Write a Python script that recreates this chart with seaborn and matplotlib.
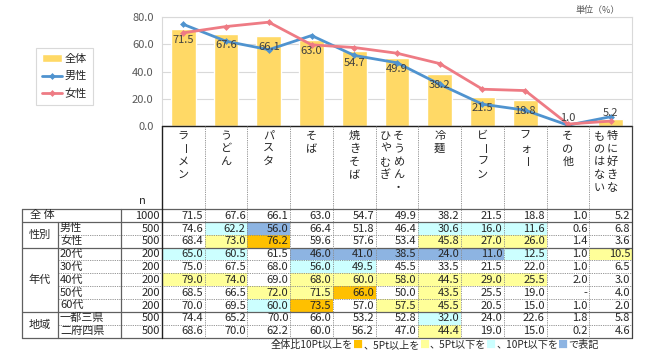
import numpy as np
import pandas as pd
import seaborn as sns
import matplotlib.pyplot as plt
from matplotlib.colors import ListedColormap
from matplotlib.offsetbox import TextArea, HPacker, AnchoredOffsetbox

# ---- data ----
categories = ['ラーメン', 'うどん', 'パスタ', 'そば', '焼きそば', 'そうめん・ひやむぎ',
              '冷麺', 'ビーフン', 'フォー', 'その他', '特に好きなものはない']
# vertical header text, right column first
header_cols = [['ラーメン'], ['うどん'], ['パスタ'], ['そば'], ['焼きそば'],
               ['そうめん・', 'ひやむぎ'], ['冷麺'], ['ビーフン'], ['フォー'],
               ['その他'], ['特に好きな', 'ものはない']]

row_labels = ['全 体', '男性', '女性', '20代', '30代', '40代', '50代', '60代', '一都三県', '二府四県']
groups = [('性別', 1, 3), ('年代', 3, 8), ('地域', 8, 10)]
n_values = [1000, 500, 500, 200, 200, 200, 200, 200, 500, 500]

zentai = [71.5, 67.6, 66.1, 63.0, 54.7, 49.9, 38.2, 21.5, 18.8, 1.0, 5.2]
dansei = [74.6, 62.2, 56.0, 66.4, 51.8, 46.4, 30.6, 16.0, 11.6, 0.6, 6.8]
josei = [68.4, 73.0, 76.2, 59.6, 57.6, 53.4, 45.8, 27.0, 26.0, 1.4, 3.6]
age20 = [65.0, 60.5, 61.5, 46.0, 41.0, 38.5, 24.0, 11.0, 12.5, 1.0, 10.5]
age30 = [75.0, 67.5, 68.0, 56.0, 49.5, 45.5, 33.5, 21.5, 22.0, 1.0, 6.5]
age40 = [79.0, 74.0, 69.0, 68.0, 60.0, 58.0, 44.5, 29.0, 25.5, 2.0, 3.0]
age50 = [68.5, 66.5, 72.0, 71.5, 66.0, 50.0, 43.5, 25.5, 19.0, None, 4.0]
age60 = [70.0, 69.5, 60.0, 73.5, 57.0, 57.5, 45.5, 20.5, 15.0, 1.0, 2.0]
shuto = [74.4, 65.2, 70.0, 66.0, 53.2, 52.8, 32.0, 24.0, 22.6, 1.8, 5.8]
kinki = [68.6, 70.0, 62.2, 60.0, 56.2, 47.0, 44.4, 19.0, 15.0, 0.2, 4.6]

table_rows = [zentai, dansei, josei, age20, age30, age40, age50, age60, shuto, kinki]

# ---- style ----
sns.set_style('white')
plt.rcParams['font.family'] = ['Noto Sans CJK JP', 'DejaVu Sans']

c_bar = '#FFD966'
c_male = '#4F93CF'
c_female = '#EE7B84'
c_orange = '#FFC000'
c_yellow = '#FFFF99'
c_cyan = '#CCFFFF'
c_blue = '#8DB4E2'
txt = '#262626'

W, H = 650, 355
fig = plt.figure(figsize=(W / 100, H / 100), dpi=100)

x0, x1 = 162, 632
cw = (x1 - x0) / len(categories)
chart_top, chart_bot = 17, 126
tx0, gx, nx = 22, 58, 121
ty0, rh = 209, 12.85
ty1 = ty0 + rh * len(table_rows)

# ---- chart ----
ax = fig.add_axes([x0 / W, 1 - chart_bot / H, (x1 - x0) / W, (chart_bot - chart_top) / H])
pos = np.arange(len(categories))
sns.barplot(x=categories, y=zentai, color=c_bar, width=0.58, saturation=1,
            label='全体', ax=ax)
sns.lineplot(x=pos, y=dansei, color=c_male, lw=2, marker='D', markersize=3.5,
             markeredgewidth=0, label='男性', ax=ax)
sns.lineplot(x=pos, y=josei, color=c_female, lw=2, marker='D', markersize=3.5,
             markeredgewidth=0, label='女性', ax=ax)

for i, v in enumerate(zentai):
    off = -8 if v > 10 else 4.5
    ax.annotate(f'{v:.1f}', (i, v), xytext=(0, off), textcoords='offset points',
                ha='center', va='center', fontsize=8, color='#404040')

ax.set_xlim(-0.5, len(categories) - 0.5)
ax.set_ylim(0, 80)
ax.set_yticks([0, 20, 40, 60, 80])
ax.set_yticklabels([f'{t:.1f}' for t in [0, 20, 40, 60, 80]], fontsize=8, color='#595959')
ax.set_xticks([])
ax.set_xlabel('')
ax.tick_params(axis='y', length=0, pad=6)
ax.grid(axis='y', color='#d9d9d9', lw=0.8)
ax.set_axisbelow(True)
for s in ax.spines.values():
    s.set_color('#d9d9d9')
    s.set_linewidth(0.8)

handles, labels = ax.get_legend_handles_labels()
order = [labels.index(l) for l in ['全体', '男性', '女性']]
leg = ax.legend([handles[k] for k in order], [labels[k] for k in order],
                loc='upper left', bbox_to_anchor=(36 / W, 1 - 48 / H),
                bbox_transform=fig.transFigure, fontsize=8, frameon=True,
                fancybox=False, edgecolor='#d0d0d0', handlelength=1.8,
                handletextpad=0.2, borderpad=0.55, labelspacing=0.65,
                borderaxespad=0)
leg.get_frame().set_linewidth(0.8)

fig.text(620 / W, 1 - 10 / H, '単位（%）', ha='right', va='center', fontsize=6.5, color='#595959')

# ---- table cells (heatmap) ----
vals = pd.DataFrame([[np.nan if v is None else v for v in r] for r in table_rows],
                    index=row_labels, columns=categories)
diff = (vals.fillna(0) - vals.loc['全 体']).round(1)
codes = np.select([diff >= 10, diff >= 5, diff <= -10, diff <= -5], [1, 2, 4, 3], 0)

axh = fig.add_axes([x0 / W, 1 - ty1 / H, (x1 - x0) / W, (ty1 - ty0) / H])
sns.heatmap(codes, cmap=ListedColormap(['white', c_orange, c_yellow, c_cyan, c_blue]),
            vmin=-0.5, vmax=4.5, cbar=False, xticklabels=False, yticklabels=False, ax=axh)
for i, r in enumerate(table_rows):
    for j, v in enumerate(r):
        s = '-' if v is None else f'{v:.1f}'
        axh.text(j + 0.96, i + 0.52, s, ha='right', va='center', fontsize=8, color=txt)

# ---- overlay for table frame and labels (pixel coords) ----
ov = fig.add_axes([0, 0, 1, 1], zorder=5)
ov.set_xlim(0, W)
ov.set_ylim(H, 0)
ov.axis('off')

solid = dict(color='#606060', lw=0.9)
dash = dict(color='#8a8a8a', lw=0.6, ls=(0, (1.5, 1.2)))

ov.plot([x0, x1], [chart_bot, chart_bot], color='#202020', lw=1)
for k in [0, 1, 3, 8, 10]:
    ov.plot([tx0, x1], [ty0 + k * rh] * 2, **solid)
for k in [2, 4, 5, 6, 7, 9]:
    ov.plot([gx, x1], [ty0 + k * rh] * 2, **dash)
ov.plot([tx0, tx0], [ty0, ty1], **solid)
ov.plot([gx, gx], [ty0 + rh, ty1], **solid)
ov.plot([nx, nx], [ty0, ty1], **solid)
ov.plot([x0, x0], [chart_bot, ty1], color='#202020', lw=1)
ov.plot([x1, x1], [chart_bot, ty1], color='#404040', lw=0.9)
for j in range(1, len(categories)):
    ov.plot([x0 + j * cw] * 2, [chart_bot, ty1], **dash)

# vertical header text
for j, cols in enumerate(header_cols):
    cx = x0 + (j + 0.5) * cw
    offsets = [0] if len(cols) == 1 else [1.5, -11.5]
    for col, dx in zip(cols, offsets):
        for k, ch in enumerate(col):
            ov.text(cx + dx, 136 + k * 13, ch, ha='center', va='center',
                    fontsize=8, color=txt, rotation=-90 if ch == 'ー' else 0)

ov.text(139, 201, 'n', ha='left', va='center', fontsize=8, color=txt)

# row labels
ov.text(30, ty0 + rh / 2, row_labels[0], ha='left', va='center', fontsize=8, color=txt)
for i in range(1, len(row_labels)):
    ov.text(gx + 2, ty0 + (i + 0.5) * rh, row_labels[i], ha='left', va='center',
            fontsize=8, color=txt)
for g, a, b in groups:
    ov.text((tx0 + gx) / 2, ty0 + (a + b) / 2 * rh, g, ha='center', va='center',
            fontsize=8, color=txt)
for i, n in enumerate(n_values):
    ov.text(x0 - 2, ty0 + (i + 0.52) * rh, str(n), ha='right', va='center',
            fontsize=8, color=txt)

# footnote
parts = [('全体比10Pt以上を', txt), ('■', c_orange), ('、5Pt以上を', txt), ('■', c_yellow),
         ('、5Pt以下を', txt), ('■', c_cyan), ('、10Pt以下を', txt), ('■', c_blue),
         ('で表記', txt)]
box = HPacker(children=[TextArea(t, textprops=dict(fontsize=7.3, color=c)) for t, c in parts],
              pad=0, sep=0, align='center')
ab = AnchoredOffsetbox(loc='center', child=box, pad=0, borderpad=0, frameon=False,
                       bbox_to_anchor=(435 / W, 1 - 345 / H), bbox_transform=fig.transFigure)
ov.add_artist(ab)

fig.savefig('out.png', dpi=100)
